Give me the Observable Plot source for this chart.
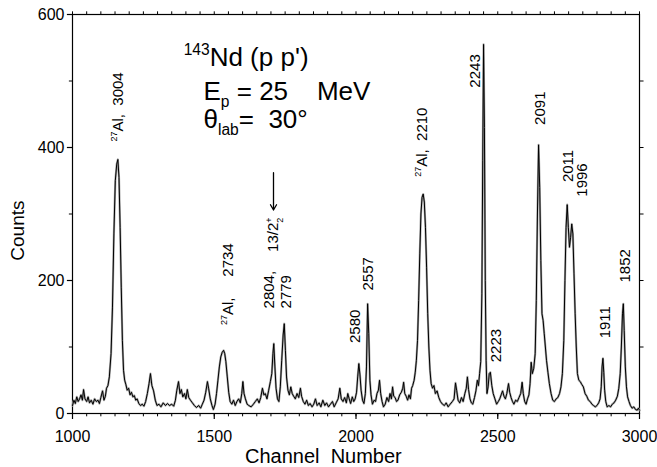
<!DOCTYPE html>
<html>
<head>
<meta charset="utf-8">
<script src="https://cdn.jsdelivr.net/npm/d3@7"></script>
<script src="https://cdn.jsdelivr.net/npm/@observablehq/plot@0.6"></script>
<style>
  html, body { margin: 0; padding: 0; background: #fff; }
  #chart svg { display: block; }
  #chart svg text { white-space: pre; }
</style>
</head>
<body>
<div id="chart"></div>
<script>
// 143Nd(p,p') proton spectrum: [channel, counts]
const spectrum = [
  [1000,12],[1005,20],[1010,15],[1015,25],[1020,18],[1025,22],[1030,28],[1035,20],[1039,36],[1044,22],
  [1050,18],[1055,25],[1060,16],[1066,20],[1072,14],[1078,22],[1084,18],[1090,20],[1095,15],[1100,24],
  [1106,34],[1111,20],[1116,26],[1120,38],[1125,42],[1130,55],[1136,90],[1141,160],[1146,270],[1151,350],
  [1156,375],[1160,382],[1164,355],[1168,280],[1172,190],[1176,110],[1180,65],[1184,50],[1188,44],[1193,35],
  [1198,38],[1203,28],[1208,32],[1213,25],[1218,27],[1223,20],[1228,22],[1234,15],[1240,12],[1246,14],
  [1252,11],[1258,18],[1264,30],[1270,45],[1275,60],[1280,42],[1286,34],[1292,20],[1298,12],[1305,14],
  [1312,10],[1320,16],[1328,12],[1335,15],[1342,12],[1350,14],[1357,11],[1363,20],[1368,35],[1374,48],
  [1379,30],[1384,36],[1389,25],[1395,30],[1400,22],[1405,36],[1410,24],[1416,20],[1423,16],[1430,12],
  [1437,9],[1445,12],[1452,8],[1458,14],[1464,20],[1470,32],[1476,48],[1480,38],[1486,22],[1492,12],
  [1497,6],[1503,14],[1508,30],[1513,50],[1518,70],[1523,85],[1528,92],[1533,95],[1537,90],[1541,78],
  [1546,55],[1551,32],[1556,18],[1562,14],[1568,20],[1574,12],[1580,18],[1586,22],[1592,16],[1597,30],
  [1601,48],[1605,30],[1610,22],[1616,14],[1622,12],[1630,10],[1638,14],[1645,18],[1652,22],[1658,16],
  [1664,24],[1670,38],[1675,28],[1680,30],[1686,22],[1692,35],[1698,48],[1703,60],[1707,90],[1710,105],
  [1714,70],[1718,38],[1723,22],[1728,18],[1733,40],[1738,80],[1743,118],[1747,135],[1751,95],[1755,55],
  [1760,35],[1765,28],[1770,40],[1775,30],[1780,26],[1786,22],[1792,30],[1798,24],[1804,38],[1808,26],
  [1814,18],[1820,14],[1826,20],[1832,12],[1838,15],[1845,10],[1851,14],[1857,22],[1863,12],[1870,16],
  [1876,10],[1883,20],[1890,12],[1896,16],[1903,10],[1910,14],[1917,18],[1923,10],[1930,16],[1937,22],
  [1943,38],[1948,22],[1954,18],[1960,24],[1966,16],[1971,30],[1976,22],[1981,15],[1987,25],[1992,18],
  [1997,22],[2002,32],[2006,55],[2010,75],[2014,58],[2018,35],[2023,20],[2028,15],[2033,30],[2037,70],
  [2041,165],[2045,120],[2049,50],[2053,28],[2058,14],[2064,20],[2069,18],[2074,30],[2079,35],[2083,50],
  [2087,30],[2092,18],[2097,10],[2103,14],[2109,24],[2115,18],[2120,30],[2125,22],[2129,40],[2133,26],
  [2138,24],[2143,18],[2148,20],[2154,28],[2160,32],[2165,38],[2168,47],[2172,30],[2177,26],[2182,20],
  [2187,28],[2192,22],[2196,38],[2200,42],[2205,50],[2209,62],[2213,80],[2217,110],[2221,170],[2225,240],
  [2229,300],[2233,325],[2237,330],[2241,318],[2245,280],[2249,220],[2253,150],[2257,100],[2261,65],[2265,45],
  [2270,38],[2275,42],[2280,30],[2286,34],[2292,24],[2298,18],[2305,14],[2312,12],[2318,16],[2325,10],
  [2332,14],[2340,18],[2346,22],[2351,46],[2355,35],[2360,20],[2366,16],[2372,24],[2378,18],[2384,30],
  [2389,38],[2393,55],[2397,36],[2402,22],[2407,16],[2412,14],[2418,24],[2423,34],[2428,50],[2432,42],
  [2436,60],[2440,78],[2444,180],[2447,380],[2450,555],[2453,430],[2456,200],[2459,80],[2462,30],[2466,40],
  [2470,60],[2474,62],[2479,42],[2484,30],[2490,22],[2496,14],[2502,18],[2507,22],[2512,28],[2517,34],
  [2522,26],[2527,22],[2532,30],[2538,45],[2542,32],[2547,24],[2552,18],[2557,14],[2563,20],[2569,18],
  [2575,24],[2581,30],[2586,47],[2590,30],[2595,18],[2600,14],[2605,22],[2610,28],[2614,45],[2618,77],
  [2622,60],[2627,68],[2632,90],[2636,170],[2640,300],[2644,404],[2648,340],[2652,230],[2656,150],[2660,140],
  [2664,120],[2668,100],[2672,80],[2677,62],[2682,45],[2688,30],[2694,20],[2700,18],[2706,22],[2712,24],
  [2718,30],[2723,40],[2728,60],[2733,110],[2737,200],[2741,280],[2745,314],[2749,280],[2753,250],[2757,265],
  [2761,285],[2765,270],[2769,210],[2773,150],[2777,100],[2781,60],[2786,50],[2791,48],[2796,44],[2802,40],
  [2808,30],[2814,26],[2820,20],[2826,18],[2832,14],[2838,12],[2844,10],[2850,12],[2856,16],[2861,22],
  [2865,40],[2868,70],[2871,83],[2874,62],[2877,35],[2881,18],[2886,10],[2892,12],[2898,10],[2904,14],
  [2910,16],[2916,20],[2922,26],[2927,38],[2932,60],[2936,100],[2940,150],[2943,165],[2946,125],[2950,70],
  [2954,40],[2958,25],[2963,18],[2968,12],[2974,8],[2980,10],[2986,6],[2992,5],[2996,8],[3000,5]
];

// Level labels (excitation energies in keV), written upward beside the peaks
const peakLabels   = ["^{27}Al,  3004", "^{27}Al,     2734", "13/2^{+}_{2}", "2804,", "2779", "2580", "2557",
                      "^{27}Al,  2210", "2243", "2223", "2091", "2011", "1996", "1911", "1852"];
const labelChannel = [1162, 1550, 1709, 1695, 1755, 1998, 2044, 2235, 2422, 2496, 2651, 2750, 2799, 2880, 2951];
const labelCount   = [409, 133, 243, 158, 158, 106, 185, 356, 490, 77, 434, 348, 326, 113, 197];

// Arrow marking the 13/2+ state
const arrowChannel = [1709];
const arrowFrom = [362];
const arrowTo = [306];

// Reaction and kinematics
const titleLines   = ["^{143}Nd (p p')", "E_{p} = 25    MeV", "θ_{lab}=  30°"];
const titleChannel = [1392, 1462, 1462];
const titleCount   = [522, 472, 430];

// Axis titles, placed in channel / count units
const yTitle = "Counts";
const yTitleChannel = 806;
const yTitleCount = 275;
const xTitle = "Channel  Number";
const xTitleChannel = 1885;

// Axes
const xMajor = [1000, 1500, 2000, 2500, 3000];
const xMinor = d3.range(1000, 3001, 50);
const yMajor = [0, 200, 400, 600];
const yMinor = [100, 300, 500];
const yRight = [100, 200, 300, 400, 500];

const plain = d => String(d);

const plot = Plot.plot({
  width: 657,
  height: 467,
  marginLeft: 72,
  marginRight: 18,
  marginTop: 14,
  marginBottom: 54,
  style: {fontFamily: "'Liberation Sans', Arial, sans-serif", fontSize: "16px", color: "black", background: "white"},
  x: {domain: [1000, 3000], label: null},
  y: {domain: [0, 600], label: null},
  marks: [
    // tick labels
    Plot.axisX(xMajor, {anchor: "bottom", tickSize: 0, tickPadding: 17, tickFormat: plain, label: null}),
    Plot.axisY(yMajor, {anchor: "left", tickSize: 0, tickPadding: 8, tickFormat: plain, label: null}),
    // tick marks drawn just outside the frame
    Plot.ruleX(xMinor, {x: d => d, y1: 0, y2: -5, stroke: "black", strokeWidth: 1}),
    Plot.ruleX(xMajor, {x: d => d, y1: 0, y2: -9, stroke: "black", strokeWidth: 1.2}),
    Plot.ruleX(xMinor, {x: d => d, y1: 600, y2: 604, stroke: "black", strokeWidth: 1}),
    Plot.ruleY(yMajor, {y: d => d, x1: 1000, x2: 982, stroke: "black", strokeWidth: 1.2}),
    Plot.ruleY(yMinor, {y: d => d, x1: 1000, x2: 989, stroke: "black", strokeWidth: 1}),
    Plot.ruleY(yRight, {y: d => d, x1: 3000, x2: 3016, stroke: "black", strokeWidth: 1}),
    Plot.frame({stroke: "black", strokeWidth: 1.2}),
    // spectrum: grey error band under the black trace
    Plot.line(spectrum, {x: d => d[0], y: d => d[1], stroke: "#a8a8a8", strokeWidth: 2.2}),
    Plot.line(spectrum, {x: d => d[0], y: d => d[1], stroke: "#000", strokeWidth: 1}),
    Plot.arrow(arrowChannel, {
      x1: d => d, x2: d => d,
      y1: (d, i) => arrowFrom[i], y2: (d, i) => arrowTo[i],
      stroke: "black", strokeWidth: 1.3, headLength: 7
    }),
    Plot.text(peakLabels, {
      x: (d, i) => labelChannel[i], y: (d, i) => labelCount[i], text: d => d,
      rotate: -90, textAnchor: "start", fontSize: 15, fill: "black"
    }),
    Plot.text(titleLines, {
      x: (d, i) => titleChannel[i], y: (d, i) => titleCount[i], text: d => d,
      textAnchor: "start", lineAnchor: "bottom", fontSize: 26, fill: "black"
    }),
    Plot.text([yTitle], {
      text: d => d, x: () => yTitleChannel, y: () => yTitleCount, rotate: -90,
      textAnchor: "middle", lineAnchor: "middle", fontSize: 19, fill: "black"
    }),
    Plot.text([xTitle], {
      text: d => d, x: () => xTitleChannel, frameAnchor: "bottom", dy: 49,
      textAnchor: "middle", lineAnchor: "bottom", fontSize: 20, fill: "black"
    })
  ]
});

document.getElementById("chart").appendChild(plot);
plot.setAttributeNS("http://www.w3.org/XML/1998/namespace", "xml:space", "preserve");

// Turn ^{..} and _{..} markup into raised / lowered tspans
const SVGNS = "http://www.w3.org/2000/svg";
plot.querySelectorAll("text").forEach(t => {
  const s = t.textContent;
  if (!/[\^_]\{/.test(s)) return;
  const fs = parseFloat(getComputedStyle(t).fontSize) || 16;
  t.textContent = "";
  const re = /([\^_])\{([^}]*)\}|([^\^_]+)/g;
  let m, shift = 0, prevSup = false, prevText = "";
  while ((m = re.exec(s))) {
    const ts = document.createElementNS(SVGNS, "tspan");
    let target;
    if (m[1]) {
      const small = 0.6 * fs;
      target = m[1] === "^" ? -0.42 * fs : 0.28 * fs;
      ts.setAttribute("font-size", small);
      ts.textContent = m[2];
      if (m[1] === "_" && prevSup) ts.setAttribute("dx", -small * 0.58 * prevText.length);
      prevSup = m[1] === "^";
      prevText = m[2];
    } else {
      target = 0;
      ts.textContent = m[3];
      prevSup = false;
    }
    ts.setAttribute("dy", target - shift);
    shift = target;
    t.appendChild(ts);
  }
});
</script>
</body>
</html>
